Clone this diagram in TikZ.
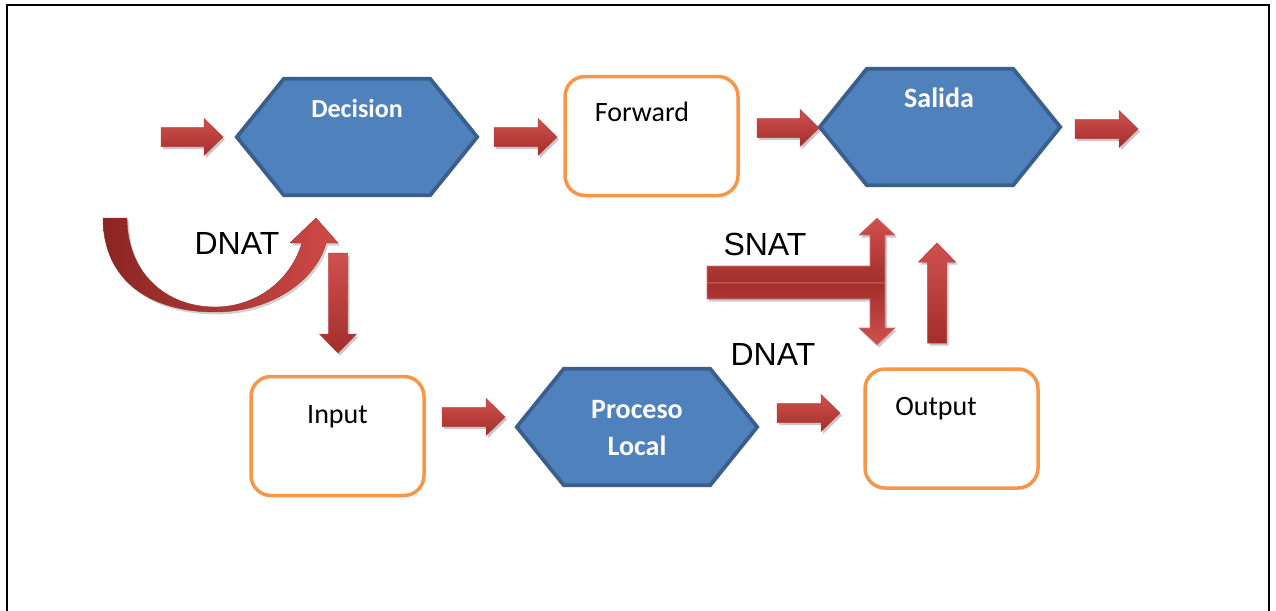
\documentclass[tikz,border=0pt]{standalone}
\usepackage{fontspec}
\setmainfont{Carlito}
\newfontfamily\arialfont{Liberation Sans}
\usetikzlibrary{shadows}

\definecolor{hexfill}{HTML}{4F81BD}
\definecolor{hexline}{HTML}{3A5F8C}
\definecolor{boxline}{HTML}{F79646}
\definecolor{arrowtop}{HTML}{D0514E}
\definecolor{arrowbot}{HTML}{A32E2C}
\definecolor{arrowedge}{HTML}{B43C39}
\definecolor{curvedark}{HTML}{8A2523}
\definecolor{curvelight}{HTML}{CF4A47}

% hexagon outline drawn around an invisible named node
\newcommand{\hexoutline}[1]{%
  \draw[hexdraw] (#1.west) -- ([xshift=47pt]#1.north west) -- ([xshift=-47pt]#1.north east)
    -- (#1.east) -- ([xshift=-47pt]#1.south east) -- ([xshift=47pt]#1.south west) -- cycle;}

\begin{document}
\begin{tikzpicture}[x=1pt,y=-1pt,
  hexnode/.style={inner sep=0pt, minimum width=240pt, minimum height=116pt},
  hexdraw/.style={fill=hexfill, draw=hexline, line width=3.8pt, line join=miter},
  roundbox/.style={draw=boxline, line width=3.5pt, rounded corners=20pt, fill=white,
    inner sep=0pt, minimum width=173pt, minimum height=119pt},
  boxtext/.style={anchor=base, inner sep=0pt, font=\fontsize{28}{32}\selectfont},
  hextext/.style={anchor=base, inner sep=0pt, text=white, font=\fontsize{28}{32}\selectfont\bfseries},
  nattext/.style={anchor=base, inner sep=0pt, font=\arialfont\fontsize{32}{36}\selectfont},
  arrowpaint/.style={top color=arrowtop, bottom color=arrowbot, draw=arrowedge, line width=0.5pt,
    drop shadow={shadow xshift=2pt, shadow yshift=-2.5pt, opacity=0.22, fill=black}},
  arrow len/.store in=\arrlen, arrow len=62,
  redarrow/.pic={
    \path[arrowpaint] (0,-9.5) -- ({\arrlen-19},-9.5) -- ({\arrlen-19},-18.5) -- (\arrlen,0)
      -- ({\arrlen-19},18.5) -- ({\arrlen-19},9.5) -- (0,9.5) -- cycle;
  }
]
\useasboundingbox (0,0) rectangle (1276,610);

% page frame, open at the bottom
\draw[line width=2.6pt] (7,612) -- (7,5) -- (1269,5) -- (1269,612);

% decision hexagons
\node[hexnode] (dec) at (357,137) {};
\hexoutline{dec}
\node[hexnode] (sal) at (940,127) {};
\hexoutline{sal}
\node[hexnode] (proc) at (637,427) {};
\hexoutline{proc}

\node[hextext, font=\fontsize{26}{30}\selectfont\bfseries] (tdec) at (357,117) {Decision};
\node[hextext] (tsal) at (939,107) {Salida};
\node[hextext] (tproc1) at (637,418) {Proceso};
\node[hextext] (tproc2) at (637,455) {Local};

% chain boxes
\node[roundbox] (fwd) at (651.5,136) {};
\node[roundbox] (inp) at (337.5,436) {};
\node[roundbox] (out) at (951.5,428.5) {};

\node[boxtext] (tfwd) at (642,121) {Forward};
\node[boxtext] (tinp) at (337.5,423) {Input};
\node[boxtext] (tout) at (936,415) {Output};

% NAT labels
\node[nattext] (dnat1) at (237,254) {DNAT};
\node[nattext] (snat) at (765,255) {SNAT};
\node[nattext] (dnat2) at (773,365) {DNAT};

% curved DNAT arrow
\path[left color=curvedark, right color=curvelight, draw=arrowedge!80!black, line width=0.4pt,
      drop shadow={shadow xshift=2pt, shadow yshift=-2.5pt, opacity=0.18, fill=black}]
  (103,218) .. controls (103,282) and (152,312) .. (215,312)
  .. controls (272,312) and (316,280) .. (326,243)
  -- (338,243) -- (316,218) -- (290,243) -- (302,243)
  .. controls (290,282) and (255,307) .. (215,307)
  .. controls (165,307) and (127,272) .. (127,218) -- cycle;

% SNAT / DNAT split arrow
\path[top color=arrowtop, bottom color=arrowbot, draw=arrowedge!70!white, line width=0.6pt,
      drop shadow={shadow xshift=2pt, shadow yshift=-2.5pt, opacity=0.2, fill=black}]
  (707,266) -- (870,266) -- (870,235) -- (859,235) -- (877,218) -- (895,235) -- (885,235)
  -- (885,283) -- (707,283) -- cycle;
\path[top color=arrowbot, bottom color=arrowtop, draw=arrowedge!70!white, line width=0.6pt,
      drop shadow={shadow xshift=2pt, shadow yshift=-2.5pt, opacity=0.2, fill=black}]
  (707,283) -- (885,283) -- (885,328) -- (895,328) -- (877,345) -- (859,328) -- (870,328)
  -- (870,299) -- (707,299) -- cycle;

% straight block arrows
\pic (a1) at (161,137) {redarrow};
\pic[arrow len=63] (a2) at (494,137) {redarrow};
\pic (a3) at (757,128) {redarrow};
\pic[arrow len=63] (a4) at (1075,129) {redarrow};
\pic[arrow len=63] (a5) at (442,417) {redarrow};
\pic[arrow len=63] (a6) at (777,413) {redarrow};
\pic[rotate=-90, arrow len=100] (a7) at (338,253) {redarrow};
\pic[rotate=90, arrow len=100] (a8) at (937,343) {redarrow};
\end{tikzpicture}
\end{document}
